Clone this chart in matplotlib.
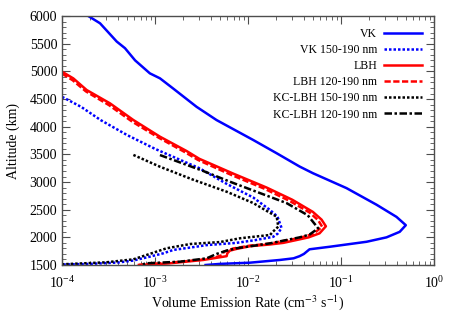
import matplotlib
matplotlib.use("Agg")
import matplotlib.pyplot as plt
from matplotlib.ticker import LogLocator, MultipleLocator, NullFormatter

plt.rcParams['font.family'] = ['Liberation Serif', 'DejaVu Serif']
plt.rcParams['mathtext.fontset'] = 'stix'

# VK total
vk_x = [1.92e-4, 2.56e-4, 3.87e-4, 4.75e-4, 6.1e-4, 8.8e-4, 1.13e-3, 1.57e-3, 2.8e-3, 4.6e-3,
        0.0114, 0.0204, 0.036, 0.05, 0.115, 0.242, 0.397, 0.50, 0.43, 0.31, 0.189, 0.076,
        0.046, 0.040, 0.036, 0.031, 0.022, 0.0105, 0.005, 0.0035]
vk_alt = [6000, 5870, 5540, 5420, 5200, 4965, 4875, 4690, 4360, 4120,
          3760, 3520, 3280, 3160, 2890, 2590, 2370, 2220, 2100, 2000, 1920, 1830,
          1784, 1700, 1660, 1621, 1591, 1542, 1520, 1500]

# VK 150-190 nm
vk2_x = [1e-4, 1.6e-4, 2.6e-4, 5e-4, 1e-3, 1.7e-3, 3e-3, 6e-3, 0.0114, 0.0173, 0.0208, 0.023,
         0.021, 0.0187, 0.012, 0.0075, 3.6e-3, 2.8e-3, 1.57e-3, 1.23e-3, 8.8e-4, 5.8e-4,
         4e-4, 2e-4, 1e-4]
vk2_alt = [4540, 4360, 4120, 3850, 3600, 3430, 3250, 2960, 2720, 2494, 2373, 2170,
           2070, 2010, 1950, 1900, 1860, 1832, 1772, 1712, 1651, 1580,
           1545, 1520, 1508]

# LBH total
lbh_x = [1e-4, 1.32e-4, 1.84e-4, 3.28e-4, 5.85e-4, 1.13e-3, 2.19e-3, 3.0e-3, 7.0e-3, 0.0159,
         0.030, 0.050, 0.062, 0.069, 0.059, 0.045, 0.036, 0.024, 0.017, 0.0105, 0.0075, 0.0064,
         0.0060, 0.0059, 0.005, 3.3e-3, 1.45e-3, 6.9e-4]
lbh_alt = [4994, 4874, 4663, 4422, 4121, 3820, 3560, 3420, 3150, 2900,
           2680, 2460, 2320, 2200, 2073, 2000, 1964, 1900, 1870, 1840, 1790, 1760,
           1712, 1660, 1640, 1591, 1531, 1500]

# LBH 120-190 nm
lbh2_x = [1e-4, 1.3e-4, 1.8e-4, 3.2e-4, 5.7e-4, 1.1e-3, 2.1e-3, 2.9e-3, 6.6e-3, 0.015,
          0.028, 0.046, 0.057, 0.063, 0.05, 0.036, 0.017, 0.0105, 0.007, 0.0055, 0.0053,
          0.0045, 3e-3, 1.4e-3, 6.5e-4]
lbh2_alt = [4960, 4840, 4640, 4390, 4090, 3800, 3540, 3400, 3130, 2880,
            2660, 2450, 2310, 2190, 2060, 1990, 1885, 1850, 1800, 1740, 1680,
            1640, 1590, 1540, 1500]

# KC-LBH 150-190 nm
kc1_x = [5.85e-4, 1.13e-3, 2.5e-3, 5.9e-3, 0.0114, 0.0204, 0.0212, 0.0185, 0.0173, 8.2e-3,
         5e-3, 2.4e-3, 1.33e-3, 8.1e-4, 5.85e-4, 3e-4, 1e-4]
kc1_alt = [3490, 3277, 3050, 2825, 2620, 2373, 2193, 2100, 2043, 1983,
           1915, 1880, 1802, 1681, 1603, 1549, 1513]

# KC-LBH 120-190 nm
kc2_x = [1.13e-3, 3.3e-3, 6.4e-3, 0.0135, 0.026, 0.044, 0.057, 0.046, 0.036, 0.0173, 7.5e-3,
         5.9e-3, 4.6e-3, 3.6e-3, 1.85e-3, 8.1e-4, 6.9e-4]
kc2_alt = [3488, 3200, 3006, 2800, 2620, 2400, 2163, 2050, 2000, 1892, 1802,
           1760, 1700, 1621, 1560, 1531, 1500]

fig = plt.figure(figsize=(4.6, 3.22), dpi=100)
ax = fig.add_axes([0.135, 0.177, 0.808, 0.773])

ax.plot(vk_x, vk_alt, color='#0000ff', lw=1.8, label='VK')
ax.plot(vk2_x, vk2_alt, color='#0000ff', lw=1.8, ls=(0, (1, 0.8)), label='VK 150-190 nm')
ax.plot(lbh_x, lbh_alt, color='#ff0000', lw=1.8, label='LBH')
ax.plot(lbh2_x, lbh2_alt, color='#ff0000', lw=1.8, ls=(0, (2.5, 1)), label='LBH 120-190 nm')
ax.plot(kc1_x, kc1_alt, color='black', lw=1.8, ls=(0, (1, 0.8)), label='KC-LBH 150-190 nm')
ax.plot(kc2_x, kc2_alt, color='black', lw=1.8, ls=(0, (3, 1, 1, 1)), label='KC-LBH 120-190 nm')

ax.set_xscale('log')
ax.set_xlim(1e-4, 1)
ax.set_ylim(1500, 6000)
ax.yaxis.set_major_locator(MultipleLocator(500))
ax.yaxis.set_minor_locator(MultipleLocator(100))
ax.xaxis.set_major_locator(LogLocator(base=10, numticks=10))
ax.xaxis.set_minor_locator(LogLocator(base=10, subs=range(2, 10), numticks=20))
ax.xaxis.set_minor_formatter(NullFormatter())

for s in ax.spines.values():
    s.set_color('0.3')
    s.set_linewidth(1.0)
ax.tick_params(which='both', direction='in', top=True, right=True, colors='0.3',
               labelcolor='black', labelsize=10)
ax.tick_params(which='major', length=6)
ax.tick_params(which='minor', length=3)
ax.tick_params(axis='x', pad=7)

ax.set_xlabel('Volume Emission Rate (cm$^{-3}$ s$^{-1}$)', fontsize=10, labelpad=2)
ax.set_ylabel('Altitude (km)', fontsize=10, labelpad=7)

ax.legend(loc='upper right', frameon=False, markerfirst=False, fontsize=8.5,
          handlelength=3.2, labelspacing=0.35, handletextpad=0.6,
          borderaxespad=0.6)

fig.savefig('out.png', dpi=100)
